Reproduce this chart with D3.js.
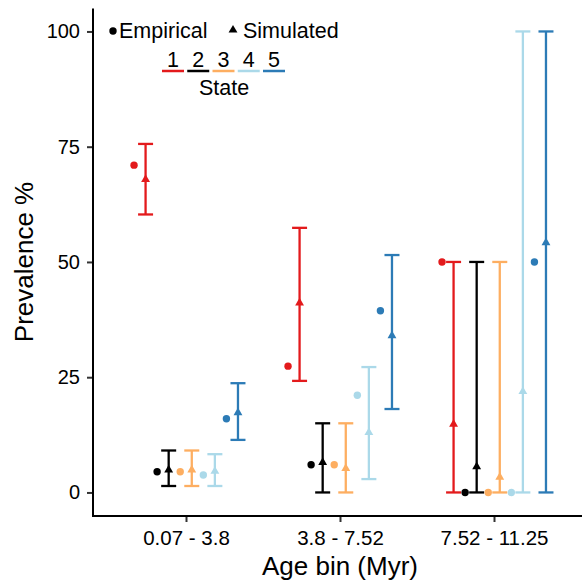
<!DOCTYPE html>
<html>
<head>
<meta charset="utf-8">
<script src="https://cdn.jsdelivr.net/npm/d3@7"></script>
<style>
  body { margin: 0; background: #fff; }
  text { font-family: "Liberation Sans", Arial, sans-serif; }
</style>
</head>
<body>
<script>
var W = 582, H = 585;

// data
var bins = ["0.07 - 3.8", "3.8 - 7.52", "7.52 - 11.25"];
var states = ["1", "2", "3", "4", "5"];
var stateColors = ["#E31A1C", "#000000", "#FDAE61", "#ABD9E9", "#2C7BB6"];
var yTicks = [0, 25, 50, 75, 100];

// empirical prevalence, one row per bin, one value per state
var empirical = [
  [71.0, 4.5, 4.5, 3.8, 16.0],
  [27.4, 6.0, 6.0, 21.1, 39.4],
  [50.0, 0, 0, 0, 50.0]
];
// simulated mean and interval
var simMean = [
  [67.9, 4.9, 4.9, 4.6, 17.3],
  [41.1, 6.5, 5.2, 13.0, 34.0],
  [14.8, 5.6, 3.3, 21.9, 54.2]
];
var simLow = [
  [60.3, 1.4, 1.4, 1.4, 11.4],
  [24.2, 0, 0, 2.9, 18.1],
  [0, 0, 0, 0, 0]
];
var simHigh = [
  [75.6, 9.1, 9.1, 8.3, 23.7],
  [57.4, 15.0, 15.0, 27.2, 51.5],
  [50.0, 50.0, 50.0, 100, 100]
];

var margin = { left: 93, top: 8, bottom: 516 };

var svg = d3.select("body").append("svg")
  .attr("width", W)
  .attr("height", H);

var x = d3.scalePoint()
  .domain(bins)
  .range([93.6, 586.4])
  .padding(0.6);

var y = d3.scaleLinear()
  .domain([-5, 105])
  .range([515.5, 8.4]);

var color = d3.scaleOrdinal().domain(states).range(stateColors);

// dodge: 10 slots per bin (empirical, simulated for each state)
var slot = x.step() * 0.075;
function dodge(bin, s, sim) {
  var k = s * 2 + (sim ? 1 : 0);
  return x(bin) + (k - 4.5) * slot;
}

// flatten rows
var rows = [];
bins.forEach(function(b, i) {
  states.forEach(function(s, j) {
    rows.push({
      bin: b, state: s, si: j,
      emp: empirical[i][j], mean: simMean[i][j],
      lo: simLow[i][j], hi: simHigh[i][j]
    });
  });
});

// axes
var yAxis = svg.append("g")
  .attr("transform", "translate(" + margin.left + ",0)")
  .call(d3.axisLeft(y).tickValues(yTicks).tickSize(6).tickPadding(7));
yAxis.select(".domain").remove();
yAxis.selectAll(".tick line").attr("stroke", "#333").attr("stroke-width", 2);
yAxis.selectAll(".tick text").attr("font-size", 20).attr("fill", "#000")
  .attr("font-family", "Liberation Sans, Arial, sans-serif");

var xAxis = svg.append("g")
  .attr("transform", "translate(0," + margin.bottom + ")")
  .call(d3.axisBottom(x).tickSize(6).tickPadding(0));
xAxis.select(".domain").remove();
xAxis.selectAll(".tick line").attr("stroke", "#333").attr("stroke-width", 2);
xAxis.selectAll(".tick text").attr("font-size", 20.5).attr("fill", "#000")
  .attr("font-family", "Liberation Sans, Arial, sans-serif")
  .attr("dy", null).attr("y", 29);

svg.append("line")
  .attr("x1", margin.left).attr("x2", margin.left)
  .attr("y1", y(105)).attr("y2", margin.bottom + 1)
  .attr("stroke", "#000").attr("stroke-width", 2);
svg.append("line")
  .attr("x1", margin.left - 1).attr("x2", W)
  .attr("y1", margin.bottom).attr("y2", margin.bottom)
  .attr("stroke", "#000").attr("stroke-width", 2);

// titles
svg.append("text")
  .attr("x", 340).attr("y", 575)
  .attr("text-anchor", "middle")
  .attr("font-size", 26)
  .text("Age bin (Myr)");
svg.append("text")
  .attr("transform", "translate(33,262) rotate(-90)")
  .attr("text-anchor", "middle")
  .attr("font-size", 26)
  .text("Prevalence %");

// error bars
var capW = 7.5;
var bars = svg.append("g").selectAll("g").data(rows).enter().append("g")
  .attr("stroke", function(d) { return color(d.state); })
  .attr("stroke-width", 2.3);
bars.append("line")
  .attr("x1", function(d) { return dodge(d.bin, d.si, true); })
  .attr("x2", function(d) { return dodge(d.bin, d.si, true); })
  .attr("y1", function(d) { return y(d.lo); })
  .attr("y2", function(d) { return y(d.hi); });
bars.append("line")
  .attr("x1", function(d) { return dodge(d.bin, d.si, true) - capW; })
  .attr("x2", function(d) { return dodge(d.bin, d.si, true) + capW; })
  .attr("y1", function(d) { return y(d.lo); })
  .attr("y2", function(d) { return y(d.lo); });
bars.append("line")
  .attr("x1", function(d) { return dodge(d.bin, d.si, true) - capW; })
  .attr("x2", function(d) { return dodge(d.bin, d.si, true) + capW; })
  .attr("y1", function(d) { return y(d.hi); })
  .attr("y2", function(d) { return y(d.hi); });

// simulated triangles
var tri = d3.symbol().type(d3.symbolTriangle).size(34);
svg.append("g").selectAll("path").data(rows).enter().append("path")
  .attr("d", tri)
  .attr("transform", function(d) {
    return "translate(" + dodge(d.bin, d.si, true) + "," + y(d.mean) + ")";
  })
  .attr("fill", function(d) { return color(d.state); });

// empirical points
svg.append("g").selectAll("circle").data(rows).enter().append("circle")
  .attr("cx", function(d) { return dodge(d.bin, d.si, false); })
  .attr("cy", function(d) { return y(d.emp); })
  .attr("r", 3.7)
  .attr("fill", function(d) { return color(d.state); });

// legend: type
var lg = svg.append("g");
lg.append("circle").attr("cx", 113).attr("cy", 31).attr("r", 3.7).attr("fill", "#000");
lg.append("text").attr("x", 119).attr("y", 38).attr("font-size", 21.5).text("Empirical");
lg.append("path").attr("d", tri).attr("transform", "translate(233,30)").attr("fill", "#000");
lg.append("text").attr("x", 243).attr("y", 38).attr("font-size", 21.5).text("Simulated");

// legend: state
var keyX = d3.scalePoint().domain(states).range([173, 274]);
var keys = lg.append("g").selectAll("g").data(states).enter().append("g");
keys.append("text")
  .attr("x", function(d) { return keyX(d); })
  .attr("y", 67)
  .attr("text-anchor", "middle")
  .attr("font-size", 21.5)
  .text(function(d) { return d; });
keys.append("line")
  .attr("x1", function(d) { return keyX(d) - 11; })
  .attr("x2", function(d) { return keyX(d) + 11; })
  .attr("y1", 71).attr("y2", 71)
  .attr("stroke", function(d) { return color(d); })
  .attr("stroke-width", 2.5);
lg.append("text").attr("x", 224).attr("y", 95)
  .attr("text-anchor", "middle").attr("font-size", 21.5).text("State");
</script>
</body>
</html>
